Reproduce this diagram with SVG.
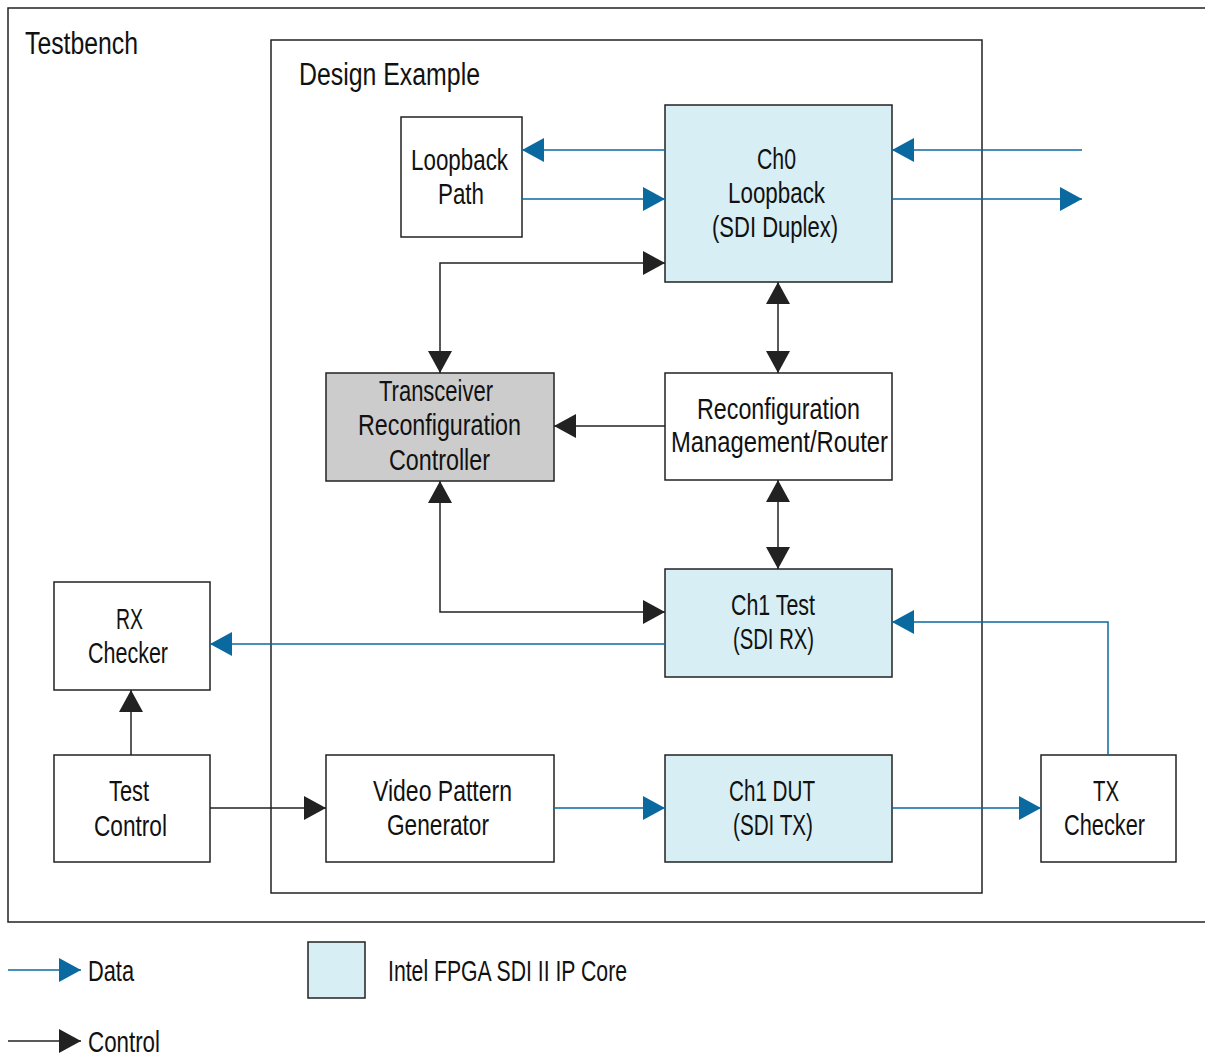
<svg xmlns="http://www.w3.org/2000/svg" width="1205" height="1057" viewBox="0 0 1205 1057">
<style>
  .frame{fill:#fff;stroke:#222;stroke-width:1.5}
  .box{fill:#fff;stroke:#222;stroke-width:1.5}
  .ip{fill:#d7eef5;stroke:#222;stroke-width:1.5}
  .gray{fill:#cccccc;stroke:#222;stroke-width:1.5}
  .data{fill:none;stroke:#0a6aa0;stroke-width:1.5}
  .ctrl{fill:none;stroke:#222;stroke-width:1.5}
  text{font-family:"Liberation Sans",Arial,sans-serif;font-size:29px;fill:#111}
  .c{text-anchor:middle}
  .title{font-size:31px}
</style>
<defs>
  <marker id="ad" markerUnits="userSpaceOnUse" markerWidth="24" markerHeight="26" refX="22" refY="12" orient="auto-start-reverse" viewBox="0 0 24 24">
    <path d="M0,0 L22,12 L0,24 Z" fill="#0a6aa0"/>
  </marker>
  <marker id="ac" markerUnits="userSpaceOnUse" markerWidth="24" markerHeight="26" refX="22" refY="12" orient="auto-start-reverse" viewBox="0 0 24 24">
    <path d="M0,0 L22,12 L0,24 Z" fill="#222"/>
  </marker>
</defs>

<g id="testbench">
  <rect class="frame" x="8" y="8" width="1210" height="914"/>
  <text class="title" x="25" y="54" textLength="113" lengthAdjust="spacingAndGlyphs">Testbench</text>
</g>
<g id="design-example">
  <rect class="frame" x="271" y="40" width="711" height="853"/>
  <text class="title" x="299" y="85" textLength="181" lengthAdjust="spacingAndGlyphs">Design Example</text>
</g>

<g id="loopback-path">
  <rect class="box" x="401" y="117" width="121" height="120"/>
  <text class="c" x="459.5" y="170" textLength="97" lengthAdjust="spacingAndGlyphs">Loopback</text>
  <text class="c" x="461" y="204" textLength="46" lengthAdjust="spacingAndGlyphs">Path</text>
</g>
<g id="ch0">
  <rect class="ip" x="665" y="105" width="227" height="177"/>
  <text class="c" x="776.5" y="169" textLength="39" lengthAdjust="spacingAndGlyphs">Ch0</text>
  <text class="c" x="776.5" y="203" textLength="97" lengthAdjust="spacingAndGlyphs">Loopback</text>
  <text class="c" x="775" y="237" textLength="126" lengthAdjust="spacingAndGlyphs">(SDI Duplex)</text>
</g>
<g id="transceiver">
  <rect class="gray" x="326" y="373" width="228" height="108"/>
  <text class="c" x="436" y="401" textLength="114" lengthAdjust="spacingAndGlyphs">Transceiver</text>
  <text class="c" x="439.5" y="435" textLength="163" lengthAdjust="spacingAndGlyphs">Reconfiguration</text>
  <text class="c" x="439.5" y="470" textLength="101" lengthAdjust="spacingAndGlyphs">Controller</text>
</g>
<g id="reconfig-mgmt">
  <rect class="box" x="665" y="373" width="227" height="107"/>
  <text class="c" x="778.5" y="419" textLength="163" lengthAdjust="spacingAndGlyphs">Reconfiguration</text>
  <text class="c" x="779.5" y="452" textLength="217" lengthAdjust="spacingAndGlyphs">Management/Router</text>
</g>
<g id="ch1-test">
  <rect class="ip" x="665" y="569" width="227" height="108"/>
  <text class="c" x="773" y="615" textLength="84" lengthAdjust="spacingAndGlyphs">Ch1 Test</text>
  <text class="c" x="773.5" y="649" textLength="81" lengthAdjust="spacingAndGlyphs">(SDI RX)</text>
</g>
<g id="rx-checker">
  <rect class="box" x="54" y="582" width="156" height="108"/>
  <text class="c" x="129.5" y="629" textLength="27" lengthAdjust="spacingAndGlyphs">RX</text>
  <text class="c" x="128" y="663" textLength="80" lengthAdjust="spacingAndGlyphs">Checker</text>
</g>
<g id="test-control">
  <rect class="box" x="54" y="755" width="156" height="107"/>
  <text class="c" x="129" y="801" textLength="40" lengthAdjust="spacingAndGlyphs">Test</text>
  <text class="c" x="130.5" y="836" textLength="73" lengthAdjust="spacingAndGlyphs">Control</text>
</g>
<g id="video-pattern">
  <rect class="box" x="326" y="755" width="228" height="107"/>
  <text class="c" x="442.5" y="801" textLength="139" lengthAdjust="spacingAndGlyphs">Video Pattern</text>
  <text class="c" x="438" y="835" textLength="102" lengthAdjust="spacingAndGlyphs">Generator</text>
</g>
<g id="ch1-dut">
  <rect class="ip" x="665" y="755" width="227" height="107"/>
  <text class="c" x="772" y="801" textLength="86" lengthAdjust="spacingAndGlyphs">Ch1 DUT</text>
  <text class="c" x="773" y="835" textLength="80" lengthAdjust="spacingAndGlyphs">(SDI TX)</text>
</g>
<g id="tx-checker">
  <rect class="box" x="1041" y="755" width="135" height="107"/>
  <text class="c" x="1106" y="801" textLength="26" lengthAdjust="spacingAndGlyphs">TX</text>
  <text class="c" x="1104.5" y="835" textLength="81" lengthAdjust="spacingAndGlyphs">Checker</text>
</g>

<g id="connectors">
  <line class="data" x1="665" y1="150" x2="522" y2="150" marker-end="url(#ad)"/>
  <line class="data" x1="522" y1="199" x2="665" y2="199" marker-end="url(#ad)"/>
  <line class="data" x1="1082" y1="150" x2="892" y2="150" marker-end="url(#ad)"/>
  <line class="data" x1="892" y1="199" x2="1082" y2="199" marker-end="url(#ad)"/>
  <line class="data" x1="665" y1="644" x2="210" y2="644" marker-end="url(#ad)"/>
  <polyline class="data" points="1108,755 1108,622 892,622" marker-end="url(#ad)"/>
  <line class="data" x1="554" y1="808" x2="665" y2="808" marker-end="url(#ad)"/>
  <line class="data" x1="892" y1="808" x2="1041" y2="808" marker-end="url(#ad)"/>

  <polyline class="ctrl" points="440,373 440,263 665,263" marker-start="url(#ac)" marker-end="url(#ac)"/>
  <line class="ctrl" x1="778" y1="282" x2="778" y2="373" marker-start="url(#ac)" marker-end="url(#ac)"/>
  <line class="ctrl" x1="665" y1="426" x2="554" y2="426" marker-end="url(#ac)"/>
  <line class="ctrl" x1="778" y1="480" x2="778" y2="569" marker-start="url(#ac)" marker-end="url(#ac)"/>
  <polyline class="ctrl" points="440,481 440,612 665,612" marker-start="url(#ac)" marker-end="url(#ac)"/>
  <line class="ctrl" x1="131" y1="755" x2="131" y2="690" marker-end="url(#ac)"/>
  <line class="ctrl" x1="210" y1="808" x2="326" y2="808" marker-end="url(#ac)"/>
</g>

<g id="legend">
  <line class="data" x1="8" y1="970" x2="81" y2="970" marker-end="url(#ad)"/>
  <text x="88" y="981" textLength="46" lengthAdjust="spacingAndGlyphs">Data</text>
  <line class="ctrl" x1="8" y1="1041" x2="81" y2="1041" marker-end="url(#ac)"/>
  <text x="88" y="1052" textLength="72" lengthAdjust="spacingAndGlyphs">Control</text>
  <rect class="ip" x="308" y="942" width="57" height="56"/>
  <text x="388" y="981" textLength="239" lengthAdjust="spacingAndGlyphs">Intel FPGA SDI II IP Core</text>
</g>
</svg>
